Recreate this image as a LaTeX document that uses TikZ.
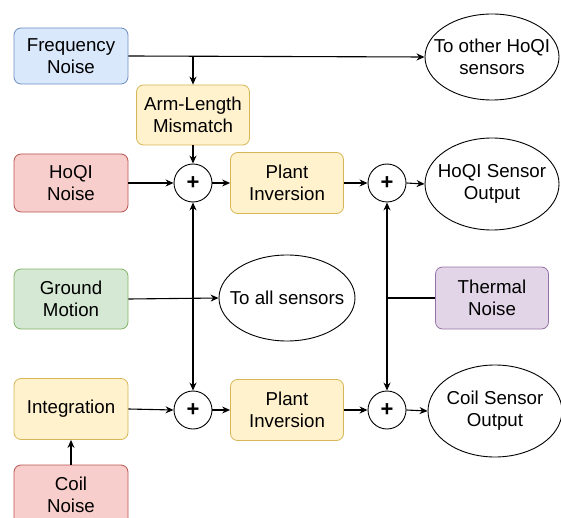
\documentclass[tikz,border=0pt]{standalone}
\usepackage{fontspec}
\setmainfont{Liberation Sans}
\usetikzlibrary{shapes.geometric,arrows.meta}
\definecolor{bluef}{HTML}{DAE8FC}\definecolor{blued}{HTML}{6C8EBF}
\definecolor{yelf}{HTML}{FFF2CC}\definecolor{yeld}{HTML}{D6B656}
\definecolor{redf}{HTML}{F8CECC}\definecolor{redd}{HTML}{B85450}
\definecolor{grnf}{HTML}{D5E8D4}\definecolor{grnd}{HTML}{82B366}
\definecolor{purf}{HTML}{E1D5E7}\definecolor{purd}{HTML}{9673A6}
\tikzset{
  txt/.style={align=center, inner sep=0pt, font=\fontsize{18.7}{22}\selectfont},
  box/.style={txt, rectangle, rounded corners=7pt, line width=0.8pt, minimum width=114pt, minimum height=58pt},
  bluebox/.style={box, fill=bluef, draw=blued},
  yelbox/.style={box, fill=yelf, draw=yeld},
  redbox/.style={box, fill=redf, draw=redd},
  grnbox/.style={box, fill=grnf, draw=grnd},
  purbox/.style={box, fill=purf, draw=purd},
  oval/.style={ellipse, draw, line width=0.9pt, fill=white, minimum width=134pt, minimum height=90pt, inner sep=0pt},
  ovaltext/.style={label={[txt]center:#1}},
  sumnode/.style={circle, draw, line width=0.9pt, fill=white, minimum size=38pt, inner sep=0pt, font=\fontsize{22}{22}\selectfont\bfseries},
  conn/.style={line width=1.1pt, -{Stealth[length=8pt,width=7pt]}},
  bconn/.style={line width=1.1pt, {Stealth[length=8pt,width=7pt]}-{Stealth[length=8pt,width=7pt]}},
  plain/.style={line width=1.1pt}
}
\begin{document}
\begin{tikzpicture}[x=1pt,y=-1pt]
\useasboundingbox (0,0) rectangle (561,518);
\node[bluebox, minimum height=56pt] (fn) at (71,56) {Frequency\\Noise};
\node[yelbox, minimum width=113pt, minimum height=60pt] (alm) at (193,115) {Arm-Length\\Mismatch};
\node[redbox] (hn) at (71,183) {HoQI\\Noise};
\node[sumnode] (s1) at (193,183) {+};
\node[yelbox, minimum width=113pt, minimum height=61pt] (pi1) at (287,183) {Plant\\Inversion};
\node[sumnode] (s2) at (387,183) {+};
\node[oval, minimum height=92pt, ovaltext={HoQI Sensor\\Output}] (hso) at (492,184) {};
\node[oval, minimum height=86pt, ovaltext={To other HoQI\\sensors}] (toh) at (492,57) {};
\node[grnbox, minimum height=60pt] (gm) at (71,299) {Ground\\Motion};
\node[oval, minimum width=136pt, minimum height=86pt, ovaltext={To all sensors}] (tas) at (287,298) {};
\node[purbox, minimum width=113pt, minimum height=62pt] (tn) at (492,298) {Thermal\\Noise};
\node[yelbox, minimum height=61pt] (integ) at (71,409) {Integration};
\node[sumnode] (s3) at (193,410) {+};
\node[yelbox, minimum width=113pt, minimum height=61pt] (pi2) at (287,410) {Plant\\Inversion};
\node[sumnode] (s4) at (387,410) {+};
\node[oval, minimum height=92pt, ovaltext={Coil Sensor\\Output}] (cso) at (495,411) {};
\node[redbox, minimum height=60pt] (cn) at (71,495) {Coil\\Noise};
\coordinate (br) at (alm.north |- fn.east);
\coordinate (tj) at (s2 |- tn.west);
\draw[conn] (fn.east) -- (toh.west);
\draw[conn] (br) -- (alm.north);
\draw[conn] (alm.south) -- (s1.north);
\draw[conn] (hn.east) -- (s1.west);
\draw[conn] (s1.east) -- (pi1.west);
\draw[conn] (pi1.east) -- (s2.west);
\draw[conn] (s2.east) -- (hso.west);
\draw[bconn] (s1.south) -- (s3.north);
\draw[bconn] (s2.south) -- (s4.north);
\draw[conn] (gm.east) -- (tas.west);
\draw[plain] (tn.west) -- (tj);
\draw[conn] (integ.east) -- (s3.west);
\draw[conn] (s3.east) -- (pi2.west);
\draw[conn] (pi2.east) -- (s4.west);
\draw[conn] (s4.east) -- (cso.west);
\draw[conn] (cn.north) -- (integ.south);
\end{tikzpicture}
\end{document}
